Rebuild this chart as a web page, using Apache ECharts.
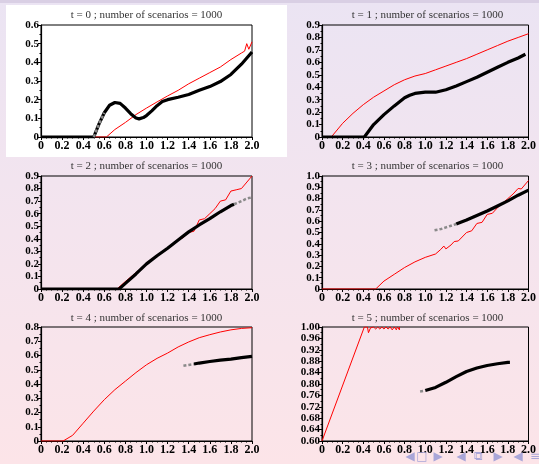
<!DOCTYPE html>
<html><head><meta charset="utf-8">
<script src="https://cdn.jsdelivr.net/npm/echarts@6/dist/echarts.min.js"></script>
<style>html,body{margin:0;padding:0;}#c{width:539px;height:464px;}</style>
</head><body><div id="c"></div>
<script>
// ---- data ----
const titles = ['t = 0 ; number of scenarios = 1000','t = 1 ; number of scenarios = 1000','t = 2 ; number of scenarios = 1000','t = 3 ; number of scenarios = 1000','t = 4 ; number of scenarios = 1000','t = 5 ; number of scenarios = 1000'];
const yMin = [0, 0, 0, 0, 0, 0.6];
const yMax = [0.6, 0.9, 0.9, 1.0, 0.8, 1.0];
const yStep = [0.1, 0.1, 0.1, 0.1, 0.1, 0.04];
const yDecimals = [1, 1, 1, 1, 1, 2];

const red0 = [[0,0],[0.62,0],[0.7,0.04],[0.8,0.078],[0.9,0.12],[1.0,0.155],[1.1,0.188],[1.2,0.22],[1.3,0.25],[1.4,0.285],[1.5,0.315],[1.6,0.345],[1.7,0.375],[1.8,0.415],[1.9,0.45],[1.93,0.46],[1.95,0.5],[1.97,0.47],[2.0,0.51]];
const black0 = [[0,0],[0.5,0],[0.55,0.07],[0.6,0.13],[0.65,0.17],[0.7,0.185],[0.75,0.18],[0.8,0.155],[0.85,0.125],[0.9,0.102],[0.93,0.097],[0.97,0.104],[1.0,0.115],[1.05,0.14],[1.1,0.168],[1.15,0.19],[1.2,0.2],[1.3,0.213],[1.4,0.228],[1.5,0.25],[1.6,0.27],[1.7,0.297],[1.8,0.335],[1.9,0.39],[2.0,0.455]];
const faint0 = [[0.5,0],[0.55,0.07],[0.6,0.13]];

const red1 = [[0,0],[0.09,0],[0.2,0.11],[0.3,0.19],[0.4,0.26],[0.5,0.32],[0.6,0.37],[0.7,0.42],[0.8,0.46],[0.9,0.49],[1.0,0.51],[1.1,0.54],[1.2,0.57],[1.3,0.6],[1.4,0.63],[1.5,0.665],[1.6,0.7],[1.7,0.735],[1.8,0.77],[1.9,0.8],[2.0,0.83]];
const black1 = [[0,0],[0.41,0],[0.5,0.1],[0.6,0.18],[0.7,0.25],[0.8,0.315],[0.85,0.335],[0.9,0.35],[1.0,0.36],[1.1,0.36],[1.2,0.38],[1.3,0.41],[1.4,0.445],[1.5,0.48],[1.6,0.52],[1.7,0.56],[1.8,0.6],[1.9,0.635],[1.97,0.665]];
const faint1 = [];

const red2 = [[0,0],[0.72,0],[0.8,0.06],[0.9,0.13],[1.0,0.2],[1.1,0.265],[1.2,0.32],[1.3,0.39],[1.35,0.41],[1.4,0.45],[1.45,0.46],[1.5,0.55],[1.55,0.56],[1.6,0.6],[1.65,0.64],[1.7,0.7],[1.75,0.71],[1.8,0.78],[1.85,0.79],[1.9,0.8],[2.0,0.9]];
const black2 = [[0,0],[0.74,0],[0.8,0.045],[0.9,0.12],[1.0,0.2],[1.1,0.265],[1.2,0.325],[1.3,0.39],[1.4,0.455],[1.5,0.51],[1.6,0.56],[1.7,0.615],[1.8,0.665],[1.83,0.675]];
const faint2 = [[1.83,0.675],[1.9,0.7],[1.95,0.72],[2.0,0.73]];

const red3 = [[0,0],[0.52,0],[0.6,0.07],[0.7,0.13],[0.8,0.19],[0.9,0.24],[1.0,0.28],[1.1,0.31],[1.15,0.35],[1.18,0.38],[1.2,0.355],[1.25,0.39],[1.28,0.42],[1.32,0.425],[1.4,0.5],[1.45,0.515],[1.5,0.58],[1.55,0.59],[1.6,0.66],[1.65,0.67],[1.7,0.72],[1.75,0.76],[1.8,0.8],[1.85,0.84],[1.9,0.89],[1.93,0.885],[2.0,0.96]];
const black3 = [[1.3,0.575],[1.4,0.61],[1.5,0.65],[1.6,0.69],[1.7,0.735],[1.8,0.78],[1.9,0.83],[2.0,0.875]];
const faint3 = [[1.09,0.52],[1.15,0.53],[1.2,0.545],[1.25,0.56],[1.3,0.575]];

const red4 = [[0,0],[0.21,0],[0.3,0.04],[0.4,0.125],[0.5,0.21],[0.6,0.29],[0.7,0.36],[0.8,0.42],[0.9,0.48],[1.0,0.535],[1.1,0.58],[1.2,0.617],[1.3,0.66],[1.4,0.695],[1.5,0.725],[1.6,0.746],[1.7,0.765],[1.8,0.78],[1.9,0.79],[2.0,0.795]];
const black4 = [[1.45,0.54],[1.5,0.547],[1.6,0.558],[1.7,0.567],[1.8,0.575],[1.9,0.585],[2.0,0.594]];
const faint4 = [[1.35,0.528],[1.4,0.534],[1.45,0.54]];

const red5 = [[0,0.6],[0.41,1.0],[0.44,1.0],[0.45,0.98],[0.47,0.997],[0.48,0.99],[0.5,1.0],[0.52,0.993],[0.54,1.0],[0.56,0.993],[0.58,1.0],[0.6,0.993],[0.62,1.0],[0.64,0.993],[0.66,1.0],[0.68,0.99],[0.7,1.0],[0.72,0.99],[0.73,1.0],[0.75,0.99],[0.75,1.0]];
const black5 = [[1.0,0.777],[1.1,0.788],[1.2,0.806],[1.3,0.826],[1.4,0.844],[1.5,0.856],[1.6,0.865],[1.7,0.871],[1.8,0.876],[1.82,0.876]];
const faint5 = [[0.95,0.774],[1.0,0.777]];

const reds = [red0, red1, red2, red3, red4, red5];
const blacks = [black0, black1, black2, black3, black4, black5];
const faints = [faint0, faint1, faint2, faint3, faint4, faint5];
const navGlyphs = ['◀','□','▶','◀','⧉','▶','◀','≡'];

// ---- layout ----
const gridBoxes = [
  {left:41, top:25, width:211, height:112},
  {left:322, top:25, width:211, height:112},
  {left:41, top:176, width:211, height:113},
  {left:322, top:176, width:211, height:113},
  {left:41, top:327, width:211, height:114},
  {left:322, top:327, width:211, height:114}
];
const titleY = [15, 15, 166, 166, 318, 318];
const navX = [410, 422, 438, 461, 478, 498, 518, 535];

const chart = echarts.init(document.getElementById('c'), null, {renderer:'canvas'});
const xLabelFont = {fontFamily:'Liberation Serif', fontWeight:'bold', fontSize:12, color:'#000'};
const yLabelFont = {fontFamily:'Liberation Serif', fontWeight:'bold', fontSize:11, color:'#000', showMinLabel:true, showMaxLabel:true};

const grids = [], xAxes = [], yAxes = [], series = [], graphics = [];
graphics.push({type:'rect', z:-10, shape:{x:0,y:0,width:539,height:464},
  style:{fill:new echarts.graphic.LinearGradient(0,0,0,1,[{offset:0,color:'#ebe4f3'},{offset:0.5,color:'#f4e4ee'},{offset:1,color:'#fce4e8'}])}});
graphics.push({type:'rect', z:-9, shape:{x:0,y:0,width:539,height:3}, style:{fill:'#d9cfe4'}});
graphics.push({type:'rect', z:-8, shape:{x:6,y:5,width:281,height:152}, style:{fill:'#ffffff'}});

for (let i = 0; i < 6; i++) {
  const b = gridBoxes[i];
  grids.push({left:b.left, top:b.top, width:b.width, height:b.height, show:true, borderColor:'#000', borderWidth:1, backgroundColor:'transparent'});
  xAxes.push({type:'value', gridIndex:i, min:0, max:2, interval:0.2,
    axisLine:{show:true, onZero:false, lineStyle:{color:'#000', width:1.2}},
    axisTick:{show:true, length:3, lineStyle:{color:'#000'}},
    minorTick:{show:true, splitNumber:4, length:1.5, lineStyle:{color:'#000'}},
    splitLine:{show:false},
    axisLabel:Object.assign({margin:3, formatter:v => v === 0 ? '0' : v.toFixed(1)}, xLabelFont)});
  const dec = yDecimals[i];
  yAxes.push({type:'value', gridIndex:i, min:yMin[i], max:yMax[i], interval:yStep[i],
    axisLine:{show:true, onZero:false, lineStyle:{color:'#000', width:1.2}},
    axisTick:{show:true, length:3, lineStyle:{color:'#000'}},
    minorTick:{show:true, splitNumber:2, length:1.5, lineStyle:{color:'#000'}},
    splitLine:{show:false},
    axisLabel:Object.assign({margin:2, formatter:v => Math.abs(v) < 1e-9 ? '0' : v.toFixed(dec)}, yLabelFont)});
  series.push({type:'line', xAxisIndex:i, yAxisIndex:i, data:reds[i], showSymbol:false, symbol:'none',
    lineStyle:{color:'#ff0000', width:1}, z:2, animation:false});
  series.push({type:'line', xAxisIndex:i, yAxisIndex:i, data:blacks[i], showSymbol:false, symbol:'none',
    lineStyle:{color:'#000', width:3.2}, z:3, animation:false});
  if (faints[i].length) series.push({type:'line', xAxisIndex:i, yAxisIndex:i, data:faints[i], showSymbol:false, symbol:'none',
    lineStyle:{color:'#8a8a8a', width:2.5, type:[3,2]}, z:4, animation:false});
  graphics.push({type:'text', x:b.left + b.width/2, y:titleY[i], z:10,
    style:{text:titles[i], textAlign:'center', textVerticalAlign:'middle', font:'11px "Liberation Serif"', fill:'#333'}});
}
navGlyphs.forEach((g, k) => {
  graphics.push({type:'text', x:navX[k], y:457, z:10,
    style:{text:g, textAlign:'center', textVerticalAlign:'middle', font:'12px "DejaVu Sans"', fill:'#a9a6d8'}});
});

chart.setOption({animation:false, backgroundColor:'transparent', grid:grids, xAxis:xAxes, yAxis:yAxes, series:series, graphic:graphics});
</script></body></html>
